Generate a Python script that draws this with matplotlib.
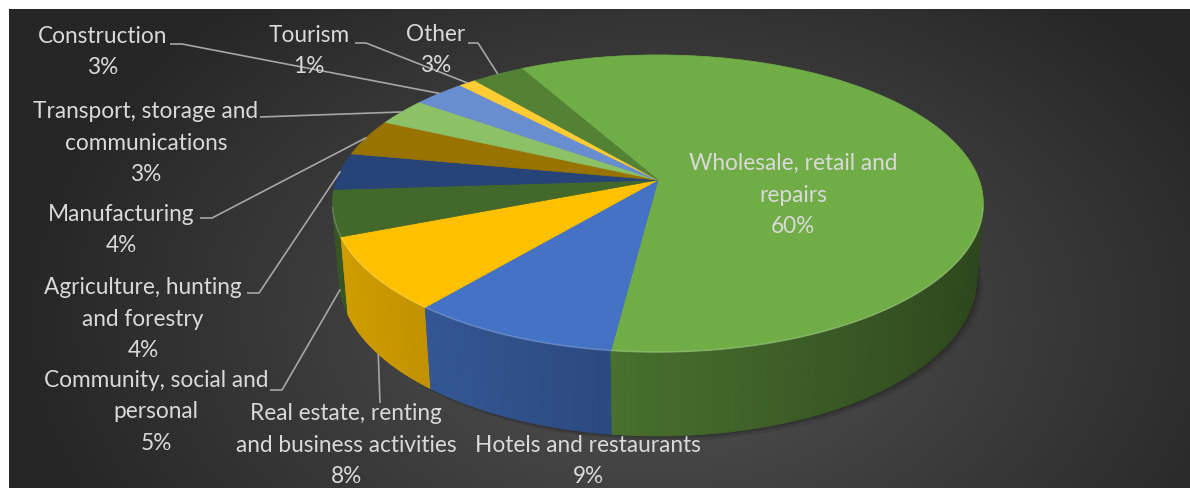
import matplotlib.pyplot as plt
import numpy as np
from matplotlib.collections import PolyCollection
from matplotlib.colors import to_rgb

# sectors of the 3D pie, clockwise from the first slice
labels = ['Wholesale, retail and\nrepairs', 'Hotels and restaurants',
          'Real estate, renting\nand business activities', 'Community, social and\npersonal',
          'Agriculture, hunting\nand forestry', 'Manufacturing',
          'Transport, storage and\ncommunications', 'Construction', 'Tourism', 'Other']
shares = [60, 9, 8, 5, 4, 4, 3, 3, 1, 3]
colors = ['#70AD47', '#4472C4', '#FFC000', '#43682B', '#264478',
          '#997300', '#8CC168', '#698ED0', '#FFCD33', '#548235']

# label layout (pixel coords): text centre and leader start
text_xy = [(793, 195), (588, 461), (346, 445), (156, 412), (143, 319),
           (121, 230), (146, 143), (103, 52), (309, 51), (436, 50)]
leader_start = [None, None, (380, 403), (270, 390), (247, 293),
                (200, 218), (260, 117), (170, 44), (355, 43), (468, 43)]
elbow = [0, 0, 0, 12, 12, 12, 0, 12, 11, 10]

W, Hpx = 1190, 488
CX, CY = 658, 180
F, D = 1812, 5.64
EL = np.radians(26.8)
THICK = 0.265
START = np.radians(118.9)


def proj(phi, r=1.0, z=0.0):
    X = r * np.cos(phi)
    Y = r * np.sin(phi)
    depth = D + Y * np.cos(EL) - z * np.sin(EL)
    up = Y * np.sin(EL) + z * np.cos(EL)
    return CX + F * X / depth, CY - F * up / depth


fig = plt.figure(figsize=(W / 100, Hpx / 100), dpi=100, facecolor='white')
ax = fig.add_axes([0, 0, 1, 1])
ax.set_xlim(0, W)
ax.set_ylim(Hpx, 0)
ax.axis('off')

# dark radial gradient background
gx, gy = np.meshgrid(np.linspace(9, W, 500), np.linspace(9, Hpx, 220))
dist = np.sqrt(((gx - 660) / 640) ** 2 + ((gy - 320) / 430) ** 2)
val = 0.33 - 0.18 * np.clip(dist, 0, 1)
bg = np.dstack([val, val, val])
ax.imshow(bg, extent=(9, W, Hpx, 9), aspect='auto', zorder=0, interpolation='bilinear')

fracs = np.array(shares) / np.sum(shares)
bounds = START - np.concatenate([[0], np.cumsum(fracs)]) * 2 * np.pi

# soft shadow under the pie
ang = np.linspace(0, 2 * np.pi, 200)
for k, a in zip([10, 6, 3], [0.08, 0.1, 0.12]):
    sx, sy = proj(ang, 1.0, -THICK)
    ax.fill(sx + k * 0.6, sy + k * 0.5, color='black', alpha=a, lw=0, zorder=1)

# side faces
polys, fcs, depths = [], [], []
for i in range(len(shares)):
    a0, a1 = bounds[i], bounds[i + 1]
    n = max(int(abs(a0 - a1) / np.radians(1)), 2)
    ts = np.linspace(a0, a1, n + 1)
    base = np.array(to_rgb(colors[i]))
    for t0, t1 in zip(ts[:-1], ts[1:]):
        tm = 0.5 * (t0 + t1)
        if np.sin(tm) > 0.05:
            continue
        x0, y0 = proj(t0)
        x1, y1 = proj(t1)
        x2, y2 = proj(t1, 1, -THICK)
        x3, y3 = proj(t0, 1, -THICK)
        polys.append([(x0, y0), (x1, y1), (x2, y2), (x3, y3)])
        fac = 0.62 - 0.22 * np.cos(tm)
        fcs.append(np.clip(base * fac, 0, 1))
        depths.append(np.sin(tm))
order = np.argsort(depths)[::-1]
side = PolyCollection([polys[j] for j in order], facecolors=[fcs[j] for j in order],
                      edgecolors=[fcs[j] for j in order], linewidths=0.6, zorder=2)
ax.add_collection(side)

# top faces
for i in range(len(shares)):
    ts = np.linspace(bounds[i], bounds[i + 1], 120)
    px, py = proj(ts)
    xs = np.concatenate([[CX], px])
    ys = np.concatenate([[CY], py])
    ax.fill(xs, ys, color=colors[i], ec=colors[i], lw=0.5, zorder=3)

# rim highlight on the front edge
ts = np.linspace(np.pi * 1.06, np.pi * 1.94, 200)
px, py = proj(ts)
ax.plot(px, py, color='white', alpha=0.18, lw=1.2, zorder=4)

# labels and leader lines
for i in range(len(shares)):
    txt = f'{labels[i]}\n{shares[i]}%'
    ax.text(text_xy[i][0], text_xy[i][1], txt, ha='center', va='center',
            multialignment='center', color='#D9D9D9', fontsize=16.3,
            family='Lato', linespacing=1.62, zorder=6)
    if leader_start[i] is None:
        continue
    mid = 0.5 * (bounds[i] + bounds[i + 1])
    if np.sin(mid) < 0:
        ex, ey = proj(mid, 1.0, -THICK)
    else:
        ex, ey = proj(mid, 1.0)
    sx, sy = leader_start[i]
    ax.plot([sx, sx + elbow[i], ex], [sy, sy, ey], color='#A6A6A6', lw=1.2,
            zorder=5, solid_capstyle='butt')

plt.savefig('out.png', dpi=100, facecolor='white')
plt.close()
